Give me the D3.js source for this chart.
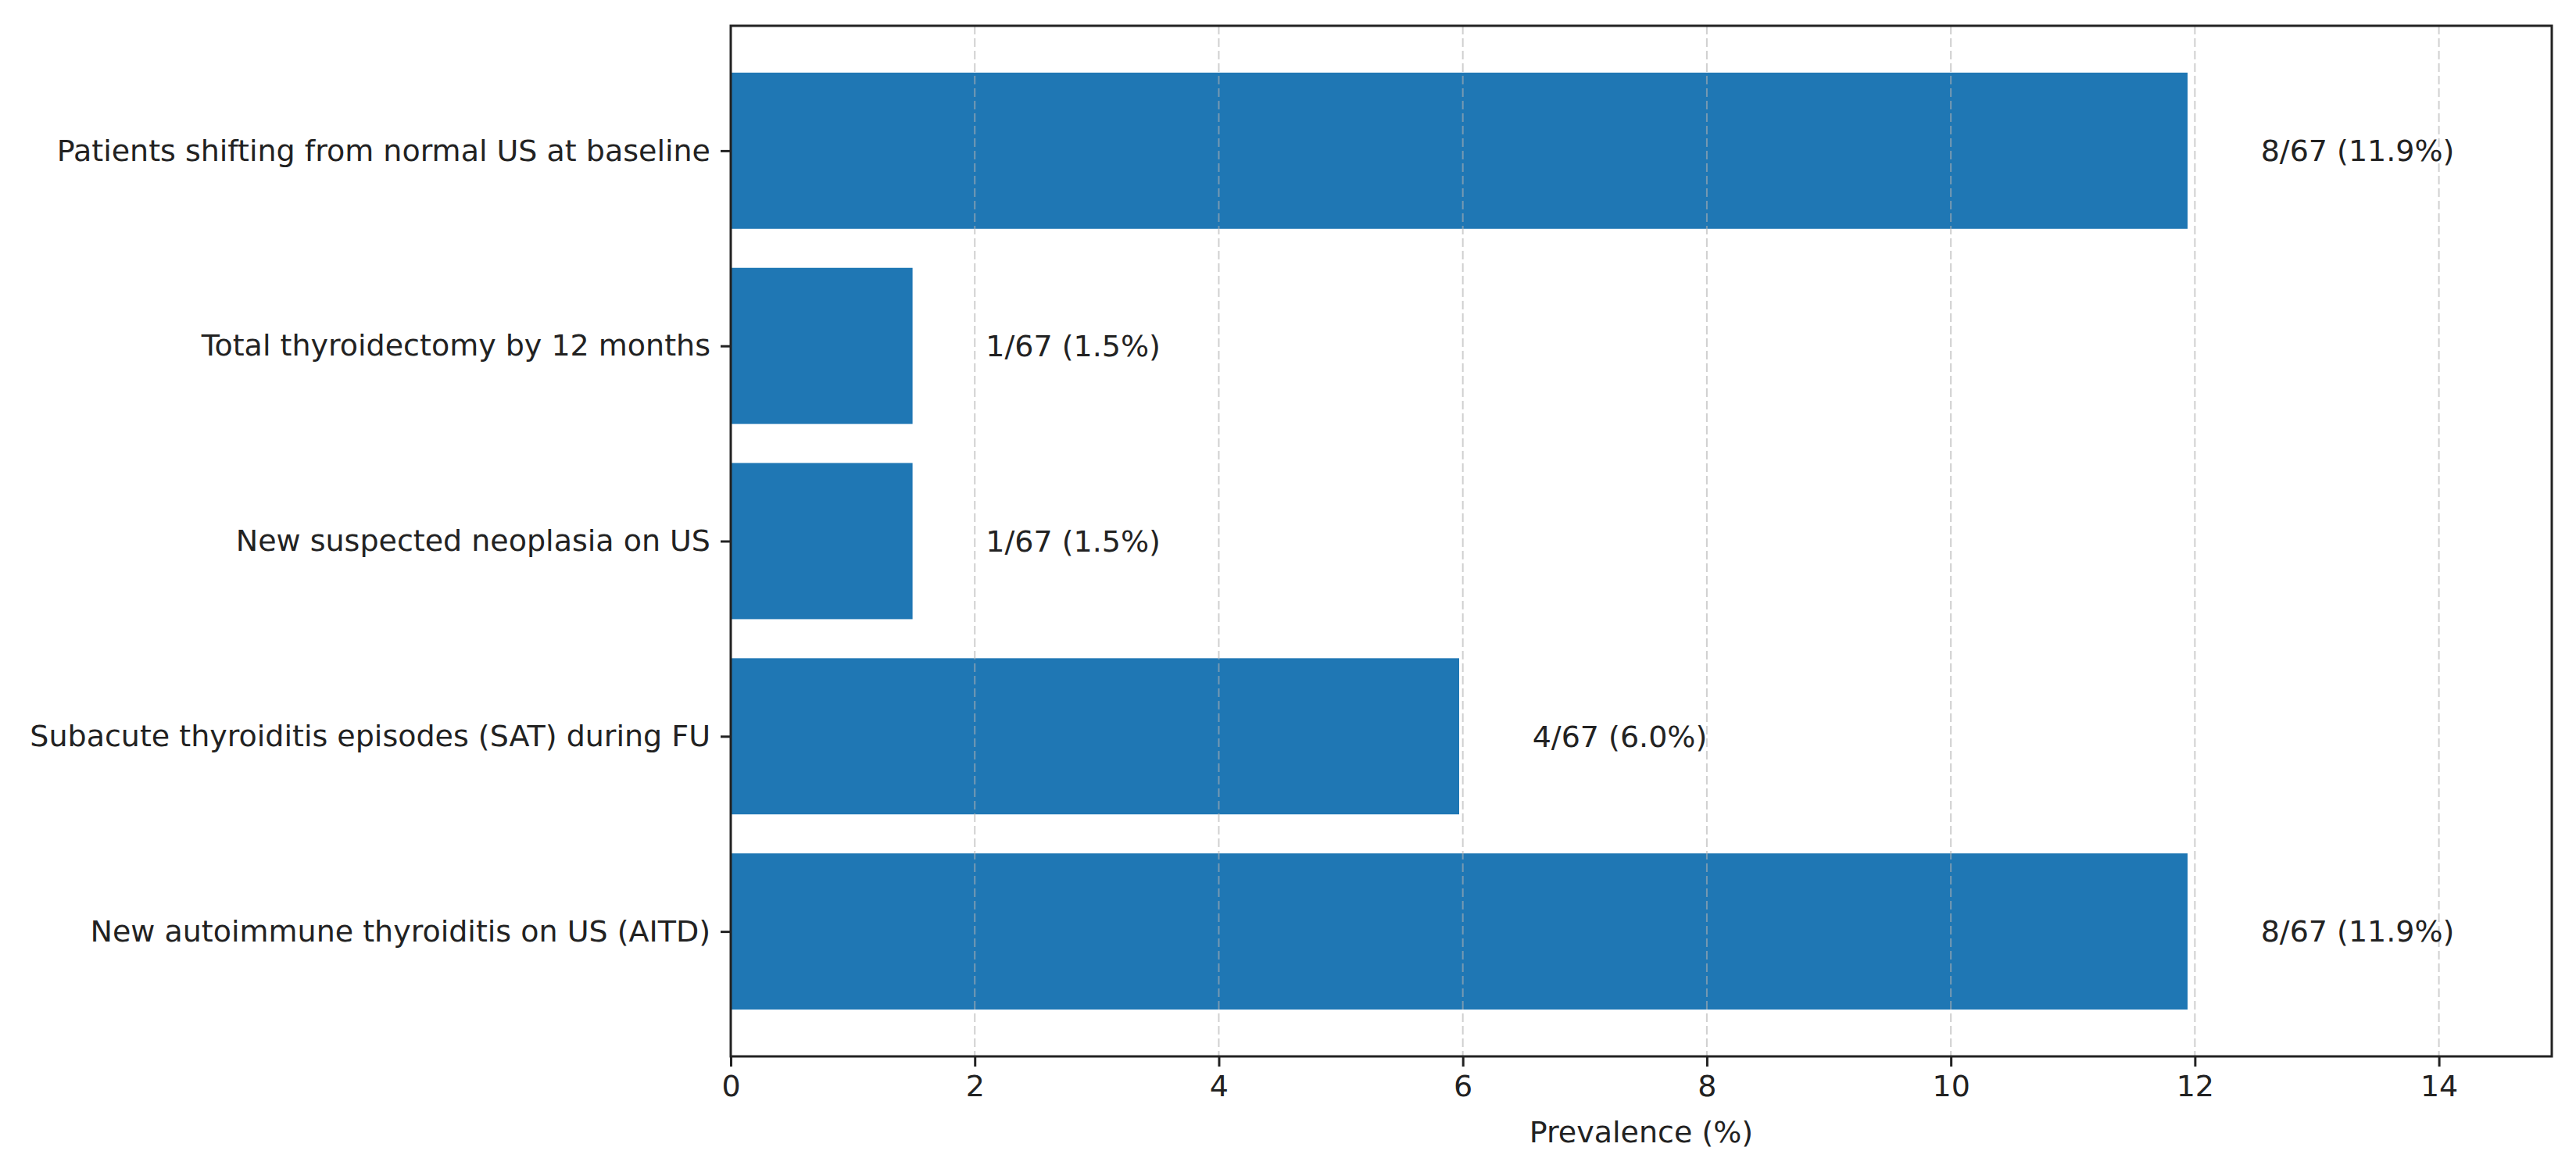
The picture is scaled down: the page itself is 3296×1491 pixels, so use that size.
<!DOCTYPE html>
<html><head><meta charset="utf-8">
<script src="https://cdn.jsdelivr.net/npm/d3@7"></script>
<style>html,body{margin:0;padding:0;background:#fff;} text{font-family:"DejaVu Sans",sans-serif;}</style>
</head><body>
<svg id="chart" width="3296" height="1491"></svg>
<script>
const categories = [
  "Patients shifting from normal US at baseline",
  "Total thyroidectomy by 12 months",
  "New suspected neoplasia on US",
  "Subacute thyroiditis episodes (SAT) during FU",
  "New autoimmune thyroiditis on US (AITD)"
];
const prevalence = [11.94, 1.49, 1.49, 5.97, 11.94];
const valueLabels = ["8/67 (11.9%)", "1/67 (1.5%)", "1/67 (1.5%)", "4/67 (6.0%)", "8/67 (11.9%)"];
const xTicks = [0, 2, 4, 6, 8, 10, 12, 14];
const xTitle = "Prevalence (%)";

const svg = d3.select("#chart");
const L = 935, R = 3265, T = 33, B = 1352;
const fs = 38;
const x = d3.scaleLinear().domain([0, 14.925]).range([L, R]);
// categorical positions 0..4 with matplotlib-like margins
const yPos = d3.scaleLinear().domain([-0.64, 4.64]).range([T, B]);
const barH = yPos(0.4) - yPos(-0.4);

svg.append("rect").attr("x",0).attr("y",0).attr("width",3296).attr("height",1491).attr("fill","#fff");

// bars
svg.append("g").selectAll("rect").data(prevalence).join("rect")
  .attr("x", x(0))
  .attr("y", (d,i) => yPos(i) - barH/2)
  .attr("width", d => x(d) - x(0))
  .attr("height", barH)
  .attr("fill", "#1f77b4");

// grid (drawn over bars, translucent)
svg.append("g").selectAll("line").data(xTicks).join("line")
  .attr("x1", d => x(d)).attr("x2", d => x(d))
  .attr("y1", T).attr("y2", B)
  .attr("stroke", "#b0b0b0").attr("stroke-opacity", 0.6)
  .attr("stroke-width", 2).attr("stroke-dasharray", "11,5");

// value labels
svg.append("g").selectAll("text").data(prevalence).join("text")
  .attr("x", d => x(d + 0.6))
  .attr("y", (d,i) => yPos(i))
  .attr("dy", "0.35em")
  .attr("font-size", fs)
  .attr("fill", "#222")
  .text((d,i) => valueLabels[i]);

// x axis
const xAxis = d3.axisBottom(x).tickValues(xTicks).tickFormat(d3.format("d")).tickSize(13).tickPadding(11);
const gx = svg.append("g").attr("transform", `translate(0,${B})`).call(xAxis);
gx.select(".domain").remove();
gx.selectAll(".tick line").attr("stroke","#222").attr("stroke-width",3);
gx.selectAll(".tick text").attr("font-size", fs).attr("fill","#222").attr("font-family","DejaVu Sans");

// y axis
const yBand = d3.scalePoint().domain(categories).range([yPos(0), yPos(4)]);
const yAxis = d3.axisLeft(yBand).tickSize(13).tickPadding(13);
const gy = svg.append("g").attr("transform", `translate(${L},0)`).call(yAxis);
gy.select(".domain").remove();
gy.selectAll(".tick line").attr("stroke","#222").attr("stroke-width",3);
gy.selectAll(".tick text").attr("font-size", fs).attr("fill","#222").attr("font-family","DejaVu Sans");

// spines
svg.append("rect").attr("x", L).attr("y", T).attr("width", R-L).attr("height", B-T)
  .attr("fill","none").attr("stroke","#222").attr("stroke-width",3);

// x title
svg.append("text").attr("x", (L+R)/2).attr("y", 1462).attr("text-anchor","middle")
  .attr("font-size", fs).attr("fill","#222").text(xTitle);
</script>
</body></html>
